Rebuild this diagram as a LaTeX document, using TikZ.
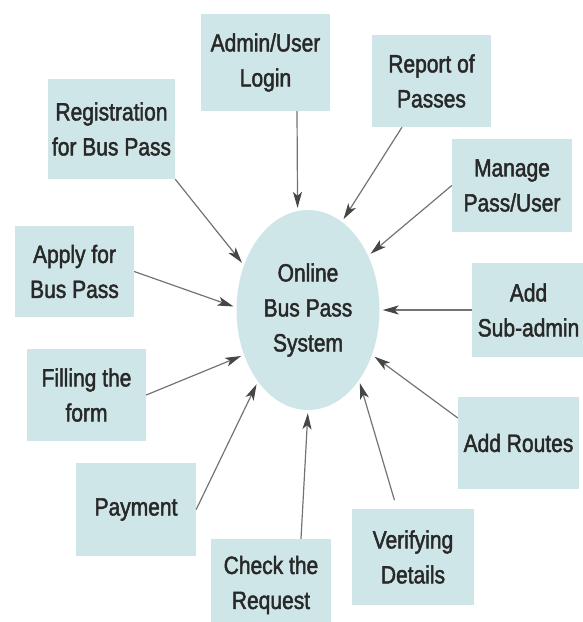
\documentclass[tikz,border=0pt]{standalone}
\usepackage{fontspec}
\setmainfont[FakeStretch=0.84,FakeBold=1.8]{Liberation Sans}
\usetikzlibrary{arrows.meta,shapes.geometric,calc}
\definecolor{boxfill}{RGB}{207,230,233}
\definecolor{txt}{RGB}{40,40,40}
\definecolor{edge}{RGB}{115,115,115}
\definecolor{tipc}{RGB}{70,70,70}
\tikzset{
  procbox/.style={rectangle,fill=boxfill,draw=none,inner sep=0pt,align=center,
    text=txt,font=\fontsize{25}{35}\selectfont},
  sysnode/.style={ellipse,fill=boxfill,draw=none,inner sep=0pt,align=center,
    text=txt,font=\fontsize{25}{35}\selectfont,minimum width=143pt,minimum height=200pt},
  flow/.style={draw=edge,line width=1.2pt,
    -{Stealth[length=16pt,width=9pt,inset=4pt,color=tipc,fill=tipc]},shorten >=3pt}
}
\begin{document}
\begin{tikzpicture}[x=1pt,y=-1pt]
\useasboundingbox (0,0) rectangle (583,622);
\node[sysnode] (sys) at (308,310) {Online\\Bus Pass\\System};
\node[procbox,minimum width=129pt,minimum height=97pt] (login) at (265.5,62.5) {Admin/User\\Login};
\node[procbox,minimum width=127pt,minimum height=100pt] (reg) at (111.5,129) {Registration\\for Bus Pass};
\node[procbox,minimum width=119pt,minimum height=92pt] (report) at (431.5,81) {Report of\\Passes};
\node[procbox,minimum width=120pt,minimum height=93pt] (manage) at (512,185.5) {Manage\\Pass/User};
\node[procbox,minimum width=119pt,minimum height=91pt] (apply) at (74.5,271.5) {Apply for\\Bus Pass};
\node[procbox,minimum width=113pt,minimum height=94pt] (subadmin) at (528.5,310) {Add\\Sub-admin};
\node[procbox,minimum width=119pt,minimum height=92pt] (fill) at (86.5,395) {Filling the\\form};
\node[procbox,minimum width=120pt,minimum height=93pt] (pay) at (136,509.5) {Payment};
\node[procbox,minimum width=120pt,minimum height=92pt] (check) at (271,585) {Check the\\Request};
\node[procbox,minimum width=122pt,minimum height=96pt] (verify) at (413,557) {Verifying\\Details};
\node[procbox,minimum width=121pt,minimum height=92pt] (routes) at (518.5,443) {Add Routes};

\draw[flow] ([xshift=31.5pt]login.south) -- (sys.96);
\draw[flow] (reg.south east) -- (sys.145.7);
\draw[flow] ([xshift=-29.5pt]report.south) -- (sys.69.7);
\draw[flow] (manage.west) -- (sys.42.1);
\draw[flow] (apply.east) -- (sys.178.4);
\draw[flow] (subadmin.west) -- (sys.0);
\draw[flow] (fill.east) -- (sys.215.5);
\draw[flow] (pay.east) -- (sys.235.2);
\draw[flow] ([xshift=30pt]check.north) -- (sys.270);
\draw[flow,shorten <=9pt] ([xshift=-16pt]verify.north) -- (sys.306);
\draw[flow] ([yshift=25pt]routes.west) -- (sys.325.9);
\end{tikzpicture}
\end{document}
